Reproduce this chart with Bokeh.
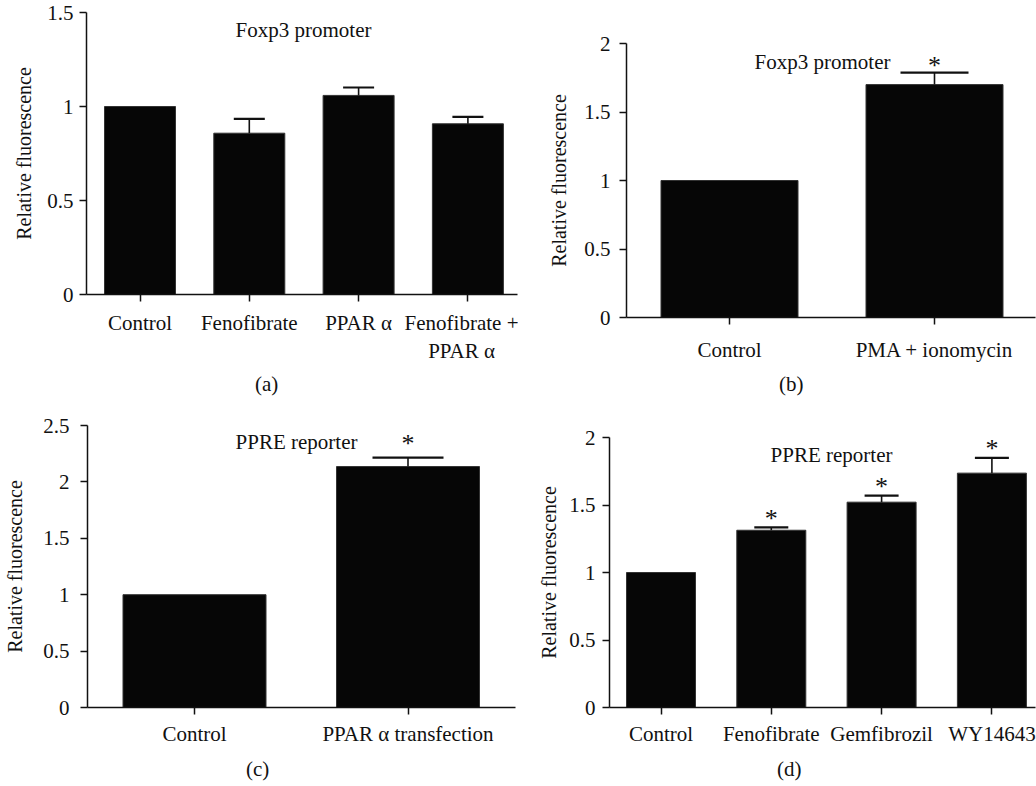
from bokeh.plotting import figure
from bokeh.models import Range1d, FixedTicker, CustomJSTickFormatter, Label, Title
from bokeh.layouts import column, row
from bokeh.embed import file_html
from bokeh.resources import INLINE
from bokeh.core.properties import value

# ---------------- data ----------------
ylabel = "Relative fluorescence"

a_cats = ["Control", "Fenofibrate", "PPAR α", "Fenofibrate +\nPPAR α"]
a_vals = [1.00, 0.858, 1.059, 0.908]
a_errs = [0.0, 0.076, 0.042, 0.037]
a_stars = ["", "", "", ""]
a_yticks = [0, 0.5, 1, 1.5]
a_title = "Foxp3 promoter"
a_sub = "(a)"

b_cats = ["Control", "PMA + ionomycin"]
b_vals = [1.00, 1.70]
b_errs = [0.0, 0.088]
b_stars = ["", "*"]
b_yticks = [0, 0.5, 1, 1.5, 2]
b_title = "Foxp3 promoter"
b_sub = "(b)"

c_cats = ["Control", "PPAR α transfection"]
c_vals = [1.00, 2.136]
c_errs = [0.0, 0.079]
c_stars = ["", "*"]
c_yticks = [0, 0.5, 1, 1.5, 2, 2.5]
c_title = "PPRE reporter"
c_sub = "(c)"

d_cats = ["Control", "Fenofibrate", "Gemfibrozil", "WY14643"]
d_vals = [1.00, 1.313, 1.521, 1.736]
d_errs = [0.0, 0.022, 0.049, 0.113]
d_stars = ["", "*", "*", "*"]
d_yticks = [0, 0.5, 1, 1.5, 2]
d_title = "PPRE reporter"
d_sub = "(d)"

# ---------------- layout geometry (page pixels) ----------------
FONT = "Liberation Serif"
INK = "#111111"

GA = dict(origin=(0, 0), size=(518, 400), frame=(86, 517, 12, 294), c0=139.5, sp=109.3,
          bw=71, cw=31, title=(303, 29.5), sub=(266, 6), xstand=9, ystand=6, lstand=9, star_off=-7)
GB = dict(origin=(518, 0), size=(518, 400), frame=(626, 1035, 43, 317), c0=729, sp=205,
          bw=137, cw=68, title=(822, 61.7), sub=(790, 10), xstand=13, ystand=9, lstand=11, star_off=-7)
GC = dict(origin=(0, 400), size=(518, 386), frame=(87, 515, 425, 709), c0=194, sp=213.5,
          bw=143, cw=71, title=(296, 441.7), sub=(257, 12), xstand=7, ystand=11, lstand=14, star_off=-14)
GD = dict(origin=(518, 400), size=(518, 386), frame=(609, 1035, 437, 709), c0=660.5, sp=110.3,
          bw=69, cw=34, title=(831, 455), sub=(788, 12), xstand=7, ystand=7, lstand=6, star_off=-9)


def panel(cats, vals, errs, stars, yticks, title, sub, g):
    ox, oy = g["origin"]
    W, H = g["size"]
    fl, fr, ft, fb = g["frame"]
    c0, sp = g["c0"], g["sp"]
    ymax = yticks[-1]

    def xd(px):
        return (px - c0) / sp

    def yd(py):
        return ymax * (fb - py) / (fb - ft)

    p = figure(width=W, height=H, x_range=Range1d(xd(fl), xd(fr)), y_range=Range1d(0, ymax),
               output_backend="svg", toolbar_location=None,
               min_border_left=fl - ox, min_border_right=ox + W - fr,
               min_border_top=ft - oy, min_border_bottom=oy + H - fb)
    p.frame_align = False
    p.xgrid.visible = False
    p.ygrid.visible = False
    p.outline_line_color = None
    p.background_fill_color = "white"
    p.border_fill_color = "white"

    idx = list(range(len(cats)))
    p.vbar(x=idx, top=vals, bottom=0, width=g["bw"] / sp,
           fill_color="#060606", line_color="#333333", line_width=1)

    ex = [i for i, e in zip(idx, errs) if e > 0]
    ev = [v for v, e in zip(vals, errs) if e > 0]
    et = [v + e for v, e in zip(vals, errs) if e > 0]
    hw = g["cw"] / sp / 2
    p.segment(x0=ex, y0=ev, x1=ex, y1=et, line_color=INK, line_width=1.6)
    p.segment(x0=[x - hw for x in ex], y0=et, x1=[x + hw for x in ex], y1=et,
              line_color=INK, line_width=2.2)

    st = [s for s in stars if s]
    sx = [i for i, s in zip(idx, stars) if s]
    sy = [v + e for v, e, s in zip(vals, errs, stars) if s]
    if st:
        p.text(x=sx, y=sy, text=st, text_align="center", text_baseline="alphabetic",
               y_offset=g["star_off"], text_font=value(FONT), text_font_size="26px",
               text_color=INK)

    tx, ty = g["title"]
    p.add_layout(Label(x=xd(tx), y=yd(ty), text=title, text_align="center",
                       text_baseline="alphabetic", text_font=FONT, text_font_size="21px",
                       text_color=INK))

    p.xaxis.ticker = FixedTicker(ticks=idx)
    p.xaxis.major_label_overrides = {i: c for i, c in zip(idx, cats)}
    p.yaxis.ticker = FixedTicker(ticks=yticks)
    p.yaxis.formatter = CustomJSTickFormatter(code="return String(Number(tick.toFixed(2)));")
    p.yaxis.axis_label = ylabel
    p.yaxis.axis_label_text_font = FONT
    p.yaxis.axis_label_text_font_size = "20px"
    p.yaxis.axis_label_text_font_style = "normal"
    p.yaxis.axis_label_text_color = INK
    p.yaxis.axis_label_standoff = g["lstand"]
    p.yaxis.major_label_standoff = g["ystand"]
    p.xaxis.major_label_standoff = g["xstand"]
    for ax in (p.xaxis, p.yaxis):
        ax.major_label_text_font = FONT
        ax.major_label_text_font_size = "21px"
        ax.major_label_text_color = INK
        ax.axis_line_color = INK
        ax.axis_line_width = 1.5
        ax.major_tick_line_color = INK
        ax.major_tick_line_width = 1.5
        ax.major_tick_in = 0
        ax.major_tick_out = 7
        ax.minor_tick_line_color = None

    # panel letter below the axis
    scx, sstand = g["sub"]
    p.add_layout(Title(text=sub, align="left", offset=scx - fl - 11.5, standoff=sstand,
                       text_font=FONT, text_font_size="21px", text_font_style="normal",
                       text_color=INK), "below")
    return p


pa = panel(a_cats, a_vals, a_errs, a_stars, a_yticks, a_title, a_sub, GA)
pb = panel(b_cats, b_vals, b_errs, b_stars, b_yticks, b_title, b_sub, GB)
pc = panel(c_cats, c_vals, c_errs, c_stars, c_yticks, c_title, c_sub, GC)
pd = panel(d_cats, d_vals, d_errs, d_stars, d_yticks, d_title, d_sub, GD)

layout = column(row(pa, pb), row(pc, pd))
open("out.html", "w").write(file_html(layout, INLINE))
